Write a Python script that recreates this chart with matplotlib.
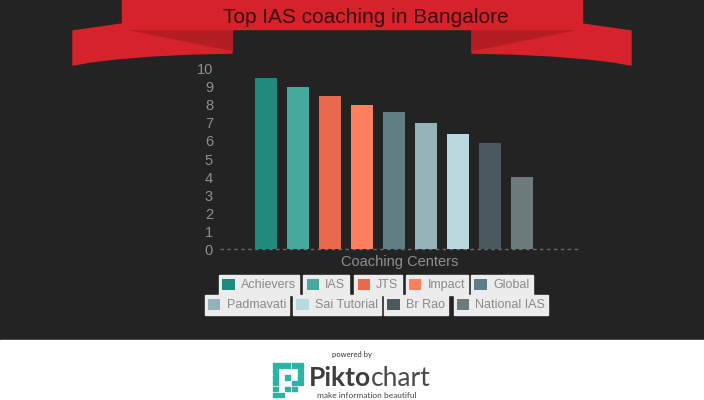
"""Top IAS coaching in Bangalore - bar chart recreation."""

import matplotlib

matplotlib.use("Agg")
import matplotlib.pyplot as plt
from matplotlib.patches import Polygon, Rectangle

CENTERS = ["Achievers", "IAS", "JTS", "Impact", "Global",
           "Padmavati", "Sai Tutorial", "Br Rao", "National IAS"]
SCORES = [9.5, 9.0, 8.5, 8.0, 7.6, 7.0, 6.4, 5.9, 4.0]
Y_TICKS = list(range(0, 11))
TITLE = "Top IAS coaching in Bangalore"
X_LABEL = "Coaching Centers"

COLORS = ["#1f8a7b", "#45a89d", "#e8694b", "#fc8060", "#5f7f87",
          "#94b2b9", "#b8d9df", "#4a585f", "#6d7b7d"]

# legend layout: (row, x-centre in px)
LEGEND_POS = [(0, 259), (0, 326), (0, 378), (0, 437), (0, 502),
              (1, 247), (1, 337), (1, 416), (1, 501)]
ROW_Y = [285, 305]

BG = "#232323"
RIBBON = "#d6222a"
RIBBON_DARK = "#b51d25"
GREY = "#8f8f8f"

W, H = 704, 400

fig = plt.figure(figsize=(W / 100, H / 100), dpi=100)

# background / decoration layer in pixel coordinates
deco = fig.add_axes([0, 0, 1, 1], zorder=0)
deco.set_xlim(0, W)
deco.set_ylim(H, 0)
deco.axis("off")
deco.add_patch(Rectangle((0, 0), W, 340, color=BG))
deco.add_patch(Rectangle((0, 340), W, 60, color="white"))

# ribbon wings (left, then mirrored for the right)
wing = [(73, 31), (122, 24), (232, 24), (232, 53), (190, 54), (150, 56),
        (115, 59), (90, 62), (73, 65)]
fold = [(128, 29), (232, 29), (232, 50)]
for pts in (wing, fold):
    col = RIBBON if pts is wing else RIBBON_DARK
    deco.add_patch(Polygon(pts, color=col))
    deco.add_patch(Polygon([(W - px, py) for px, py in pts], color=col))
deco.add_patch(Rectangle((122, 0), 460, 29, color=RIBBON))
deco.text(366, 23, TITLE, ha="center", va="baseline", fontsize=15,
          color="#3a0c0f", family="Liberation Sans")

# footer
deco.text(352, 355, "powered by", ha="center", va="center", fontsize=5.5,
          color="#333333", family="Lato")
icon = [
    "11111",
    "10001",
    "10101",
    "10011",
    "10110",
    "11000",
]
for r, row in enumerate(icon):
    for c, v in enumerate(row):
        if v == "1":
            deco.add_patch(Rectangle((273 + c * 6.2, 363 + r * 5.9), 5.0, 4.7, color="#2bb3a5"))
pikto = deco.text(309, 378, "Pikto", ha="left", va="center", fontsize=19, fontweight="bold",
                  color="#3d3d3d", family="Lato")
deco.annotate("chart", xy=(1, 0.5), xycoords=pikto, ha="left", va="center", fontsize=19,
              color="#4a4a4a", family="Lato")
deco.text(317, 395, "make information beautiful", ha="left", va="center", fontsize=6,
          color="#444444", family="Lato")

# chart axes
ax = fig.add_axes([220 / W, 1 - 249 / H, 360 / W, 10.3 * 18 / H], zorder=1)
ax.set_facecolor("none")
x = range(len(CENTERS))
bars = ax.bar(x, SCORES, width=0.69, color=COLORS, zorder=2)
ax.set_xlim(-1.44, 9.81)
ax.set_ylim(0, 10.3)
ax.set_yticks(Y_TICKS)
ax.set_yticklabels([str(t) for t in Y_TICKS], fontsize=10.5, color=GREY, family="Liberation Sans")
ax.tick_params(axis="y", length=0, pad=5)
ax.set_xticks([])
for s in ax.spines.values():
    s.set_visible(False)
ax.axhline(0, color="#6a6a6a", linestyle=(0, (2.5, 2.5)), linewidth=1.0, zorder=1, clip_on=False)
ax.set_xlabel(X_LABEL, fontsize=10.5, color=GREY, family="Liberation Sans", labelpad=4)

# one boxed legend entry per centre
for bar, name, (row, cx) in zip(bars, CENTERS, LEGEND_POS):
    leg = fig.legend([bar], [name], loc="center",
                     bbox_to_anchor=(cx / W, 1 - ROW_Y[row] / H),
                     frameon=True, fancybox=False, framealpha=1,
                     facecolor="#ececec", edgecolor="#ececec",
                     handlelength=1.0, handleheight=1.0, handletextpad=0.5,
                     borderpad=0.25, borderaxespad=0,
                     prop={"family": "Liberation Sans", "size": 9})
    for t in leg.get_texts():
        t.set_color("#8a8a8a")

fig.savefig("out.png", dpi=100, facecolor=BG)
